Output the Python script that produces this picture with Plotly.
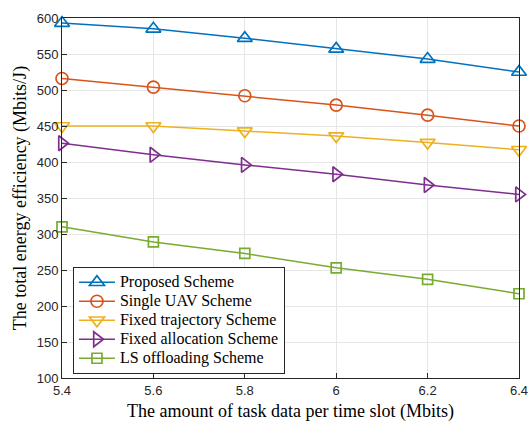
import plotly.graph_objects as go

x_vals = [5.4, 5.6, 5.8, 6.0, 6.2, 6.4]
proposed = [593, 585, 572, 557, 543, 525]
single_uav = [516, 504, 492, 479, 465, 450]
fixed_traj = [450, 450, 443, 436, 427, 417]
fixed_alloc = [426, 410, 396, 383, 368, 355]
ls_offload = [310, 289, 273, 253, 237, 217]
x_ticktext = ["5.4", "5.6", "5.8", "6", "6.2", "6.4"]
y_tickvals = [100, 150, 200, 250, 300, 350, 400, 450, 500, 550, 600]

names = ["Proposed Scheme", "Single UAV Scheme", "Fixed trajectory Scheme",
         "Fixed allocation Scheme", "LS offloading Scheme"]
series = [proposed, single_uav, fixed_traj, fixed_alloc, ls_offload]
colors = ["#0072BD", "#D95319", "#EDB120", "#7E2F8E", "#77AC30"]
symbols = ["triangle-up-open", "circle-open", "triangle-down-open",
           "triangle-right-open", "square-open"]
sizes = [13, 12, 13, 13, 10]

fig = go.Figure()
for n, s, c, sym, sz in zip(names, series, colors, symbols, sizes):
    fig.add_trace(go.Scatter(
        x=x_vals, y=s, mode="lines+markers", cliponaxis=False,
        name='<span style="font-size:16px">' + n + '</span>',
        line=dict(color=c, width=1.5),
        marker=dict(symbol=sym, size=sz, color=c, line=dict(color=c, width=1.7)),
    ))

axis_common = dict(
    showgrid=True, gridcolor="#e6e6e6", gridwidth=1,
    showline=True, linecolor="#262626", linewidth=1, mirror=True,
    ticks="inside", ticklen=5, tickcolor="#262626",
    tickfont=dict(family="Liberation Sans, Arial", size=13, color="#262626"),
    zeroline=False, automargin=False, ticklabeloverflow="allow",
)
title_font = dict(family="Liberation Serif, Times New Roman", size=18, color="#000")

fig.update_layout(
    width=528, height=424,
    margin=dict(l=62, r=9, t=18, b=46),
    paper_bgcolor="white", plot_bgcolor="white",
    xaxis=dict(range=[5.4, 6.40001], tickvals=x_vals, ticktext=x_ticktext,
               title=dict(text="The amount of task data per time slot (Mbits)",
                          font=title_font, standoff=7),
               **axis_common),
    yaxis=dict(range=[100, 600], tickvals=y_tickvals,
               title=dict(text="The total energy efficiency (Mbits/J)",
                          font=title_font, standoff=5),
               **axis_common),
    legend=dict(x=0.024, y=0.309, xanchor="left", yanchor="top",
                bgcolor="white", bordercolor="#262626", borderwidth=1,
                font=dict(family="Liberation Serif, Times New Roman", size=12, color="#000"),
                tracegroupgap=0, itemwidth=36),
    showlegend=True,
)

fig.write_html("out.html", config={"displayModeBar": False},
               post_script="document.body.style.margin='0';document.body.style.overflow='hidden';")
